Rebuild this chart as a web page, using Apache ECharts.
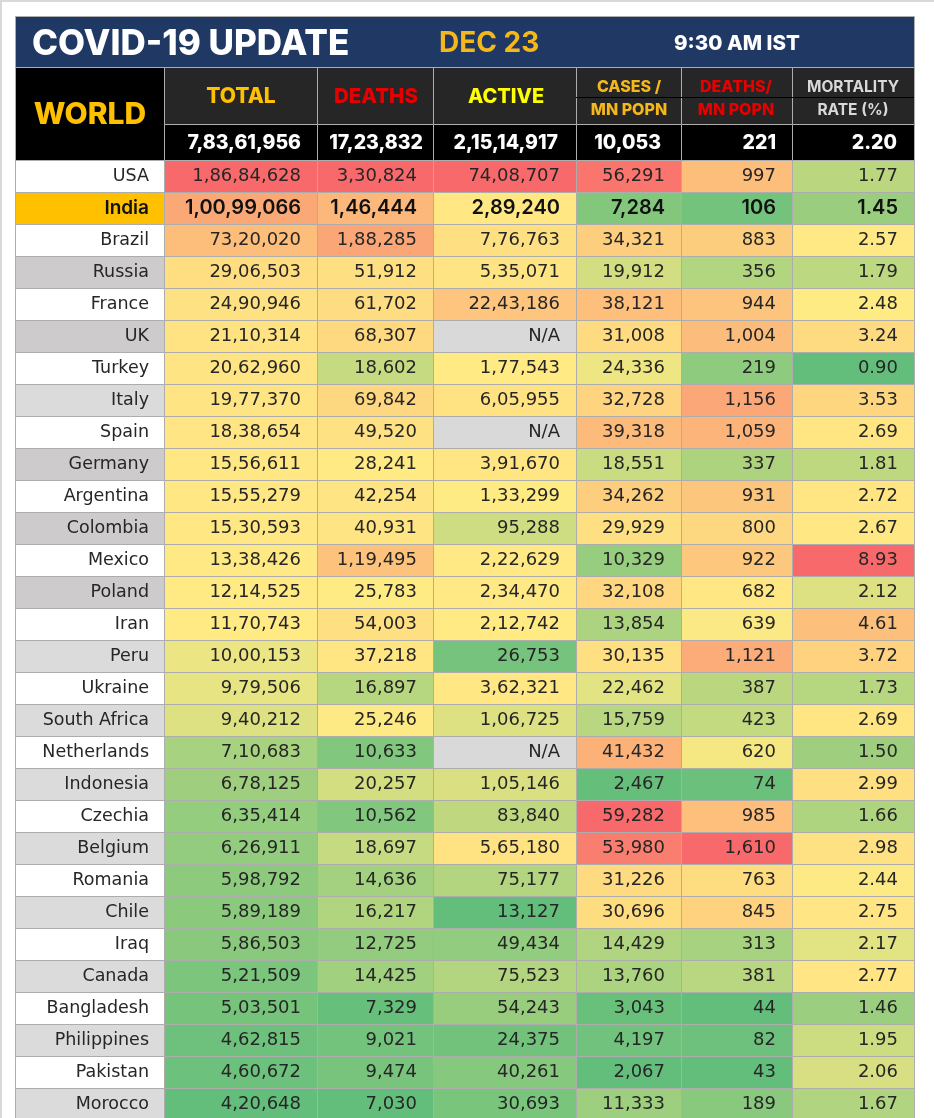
<!DOCTYPE html>
<html lang="en">
<head>
    <meta charset="UTF-8">
    <title>COVID-19 Update</title>
    <script src="https://cdn.jsdelivr.net/npm/echarts@6/dist/echarts.min.js"></script>
</head>
<style>
    *{
        margin: 0;
        padding: 0;
    }
    html , body{
        overflow: hidden;
        height: 100%;
        width: 100%;
        background: #fff;
    }
    .contain{
        width: 934px;
        height: 1118px;
    }
</style>
<body>
<div class="contain"></div>
<script>
    const countries = ['USA','India','Brazil','Russia','France','UK','Turkey','Italy','Spain','Germany','Argentina','Colombia','Mexico','Poland','Iran','Peru','Ukraine','South Africa','Netherlands','Indonesia','Czechia','Belgium','Romania','Chile','Iraq','Canada','Bangladesh','Philippines','Pakistan','Morocco'];
    const total = [18684628,10099066,7320020,2906503,2490946,2110314,2062960,1977370,1838654,1556611,1555279,1530593,1338426,1214525,1170743,1000153,979506,940212,710683,678125,635414,626911,598792,589189,586503,521509,503501,462815,460672,420648];
    const deaths = [330824,146444,188285,51912,61702,68307,18602,69842,49520,28241,42254,40931,119495,25783,54003,37218,16897,25246,10633,20257,10562,18697,14636,16217,12725,14425,7329,9021,9474,7030];
    const active = [7408707,289240,776763,535071,2243186,null,177543,605955,null,391670,133299,95288,222629,234470,212742,26753,362321,106725,null,105146,83840,565180,75177,13127,49434,75523,54243,24375,40261,30693];
    const casesPerMn = [56291,7284,34321,19912,38121,31008,24336,32728,39318,18551,34262,29929,10329,32108,13854,30135,22462,15759,41432,2467,59282,53980,31226,30696,14429,13760,3043,4197,2067,11333];
    const deathsPerMn = [997,106,883,356,944,1004,219,1156,1059,337,931,800,922,682,639,1121,387,423,620,74,985,1610,763,845,313,381,44,82,43,189];
    const mortality = [1.77,1.45,2.57,1.79,2.48,3.24,0.90,3.53,2.69,1.81,2.72,2.67,8.93,2.12,4.61,3.72,1.73,2.69,1.50,2.99,1.66,2.98,2.44,2.75,2.17,2.77,1.46,1.95,2.06,1.67];
    const worldTotals = ['7,83,61,956','17,23,832','2,15,14,917','10,053','221','2.20'];

    const columns = [total, deaths, active, casesPerMn, deathsPerMn, mortality];
    const edges = [15,164,317,433,576,681,792,914];
    const FONT = 'Inter';
    const BODY_FONT = '"DejaVu Sans"';
    const LINE = '#adadad';

    // 印度式千分位
    function fmt(v, col) {
        if (v === null) return 'N/A';
        if (col === 5) return v.toFixed(2);
        let s = String(v);
        if (s.length <= 3) return s;
        let tail = s.slice(-3), head = s.slice(0, -3);
        return head.replace(/\B(?=(\d{2})+$)/g, ',') + ',' + tail;
    }

    // 绿-黄-红 三色阶, 每列按 min / 中位数 / max
    const GREEN = [99,190,123], YELLOW = [255,235,132], RED = [248,105,107];
    let scales = columns.map(arr => {
        let s = arr.filter(v => v !== null).sort((a, b) => a - b);
        return {min: s[0], mid: (s[(s.length - 1) >> 1] + s[s.length >> 1]) / 2, max: s[s.length - 1]};
    });
    function mix(a, b, t) {
        return 'rgb(' + a.map((c, i) => Math.round(c + (b[i] - c) * t)).join(',') + ')';
    }
    function cellColor(v, col) {
        if (v === null) return '#d9d9d9';
        let k = scales[col];
        if (v < k.mid) return mix(GREEN, YELLOW, (v - k.min) / (k.mid - k.min));
        return mix(YELLOW, RED, (v - k.mid) / (k.max - k.mid));
    }
    function nameColor(row) {
        if (row === 1) return '#ffc000';
        if (row % 2 === 0) return '#fff';
        return [3, 5, 9, 11, 13].includes(row) ? '#cdcbcc' : '#dbdbdb';
    }

    let cells = [];
    countries.forEach((c, row) => {
        cells.push([0, row]);
        columns.forEach((arr, col) => cells.push([col + 1, row]));
    });

    function renderCell(params, api) {
        let col = api.value(0), row = api.value(1);
        let tl = api.coord([edges[col], row]);
        let br = api.coord([edges[col + 1], row + 1]);
        let isName = col === 0;
        let v = isName ? null : columns[col - 1][row];
        let india = row === 1;
        let font;
        if (india) {
            font = '600 ' + (isName ? '19px ' : '20px ') + FONT;
        } else {
            font = '400 ' + (isName ? '17.5px ' : '18px ') + BODY_FONT;
        }
        return {
            type: 'group',
            children: [{
                type: 'rect',
                shape: {x: tl[0] + 0.5, y: tl[1] + 0.5, width: br[0] - tl[0], height: br[1] - tl[1]},
                style: {fill: isName ? nameColor(row) : cellColor(v, col - 1), stroke: LINE, lineWidth: 1}
            }, {
                type: 'text',
                z2: 5,
                style: {
                    x: br[0] - (isName ? 15 : 16),
                    y: (tl[1] + br[1]) / 2,
                    text: isName ? countries[row] : fmt(v, col - 1),
                    align: 'right',
                    verticalAlign: 'middle',
                    fill: india ? '#111' : '#262626',
                    font: font
                }
            }]
        };
    }

    // 表头
    function box(x0, y0, x1, y1, fill) {
        return {type: 'rect', z: 10, shape: {x: x0 + 0.5, y: y0 + 0.5, width: x1 - x0, height: y1 - y0},
            style: {fill, stroke: LINE, lineWidth: 1}};
    }
    function label(x, y, text, color, size, weight, align) {
        return {type: 'text', z: 11, style: {x, y, text, fill: color, align: align || 'center',
            verticalAlign: 'middle', font: (weight || 800) + ' ' + size + 'px ' + FONT}};
    }
    let header = [
        {type: 'rect', z: 9, shape: {x: 0, y: 0, width: 934, height: 2}, style: {fill: '#d9d9d9'}},
        {type: 'rect', z: 9, shape: {x: 0, y: 0, width: 2, height: 1118}, style: {fill: '#d9d9d9'}},
        box(15, 16, 914, 67, '#1f3864'),
        label(32, 44, 'COVID-19 UPDATE', '#fff', 35, 800, 'left'),
        label(439, 44, 'DEC 23', '#f5b81c', 28, 700, 'left'),
        label(674, 44, '9:30 AM IST', '#fff', 20.5, 800, 'left'),
        box(15, 67, 164, 160, '#000'),
        label(90, 115, 'WORLD', '#ffc000', 30, 800)
    ];
    for (let i = 1; i < 7; i++) {
        header.push(box(edges[i], 67, edges[i + 1], 124, '#262626'));
        header.push(box(edges[i], 124, edges[i + 1], 160, '#000'));
    }
    header.push(
        label(241, 97, 'TOTAL', '#ffc000', 21, 800),
        label(376, 97, 'DEATHS', '#e60000', 20.5, 800),
        label(506, 97, 'ACTIVE', '#ffff00', 20, 800),
        {type: 'rect', z: 11, shape: {x: 576, y: 97, width: 338, height: 1}, style: {fill: '#000'}},
        label(629, 87, 'CASES /', '#f5b81c', 16, 800),
        label(629, 110, 'MN POPN', '#f5b81c', 16, 800),
        label(736, 87, 'DEATHS/', '#e60000', 16, 800),
        label(736, 110, 'MN POPN', '#e60000', 16, 800),
        label(853, 87, 'MORTALITY', '#d9d9d9', 15.5, 700),
        label(853, 110, 'RATE (%)', '#d9d9d9', 15.5, 700)
    );
    const totalRight = [301, 423, 558, 661, 776, 897];
    worldTotals.forEach((t, i) => {
        header.push(label(totalRight[i], 143, t, '#fff', 19.5, 800, 'right'));
    });

    let chart = echarts.init(document.querySelector('.contain'), null, {renderer: 'canvas'});
    chart.setOption({
        animation: false,
        backgroundColor: '#fff',
        grid: {left: 15, top: 160, width: 899, height: 960, outerBoundsMode: 'none'},
        xAxis: {type: 'value', min: 15, max: 914, show: false},
        yAxis: {type: 'value', min: 0, max: 30, inverse: true, show: false},
        graphic: header,
        series: [{
            type: 'custom',
            renderItem: renderCell,
            data: cells,
            clip: false,
            silent: true
        }]
    });
</script>
</body>
</html>
